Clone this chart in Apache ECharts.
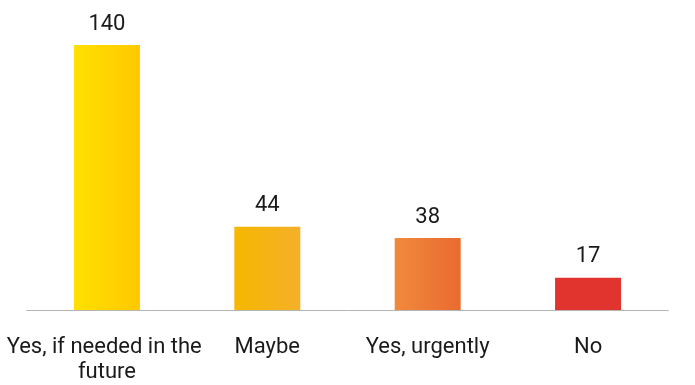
<!DOCTYPE html>
<html><head><meta charset="utf-8">
<script src="https://cdn.jsdelivr.net/npm/echarts@6/dist/echarts.min.js"></script>
<style>html,body{margin:0;padding:0;background:#fff}#c{width:695px;height:385px}</style>
</head><body><div id="c"></div>
<script>
var categories = ["Yes, if needed in the future", "Maybe", "Yes, urgently", "No"];
var values = [140, 44, 38, 17];
var colorsLeft = ["#FFE000", "#F6B800", "#F08A3C", "#E2342E"];
var colorsRight = ["#FFC800", "#F5B02A", "#EA6A30", "#E2342E"];

var chart = echarts.init(document.getElementById('c'));
chart.setOption({
  animation: false,
  grid: {left: 25, right: 0, top: 45, bottom: 71.5},
  xAxis: {
    type: 'category', data: categories,
    axisLine: {lineStyle: {color: '#b4b4b4', width: 1}},
    axisTick: {show: false},
    axisLabel: {interval: 0, margin: 25, color: '#1a1a1a', fontFamily: 'Roboto', fontSize: 22,
      width: 215, overflow: 'break', lineHeight: 25}
  },
  yAxis: {type: 'value', min: 0, max: 140, show: false, splitLine: {show: false}},
  series: [{
    type: 'bar', barWidth: 66,
    data: values.map(function (v, i) {
      return {value: v, itemStyle: {color: new echarts.graphic.LinearGradient(0, 0, 1, 0, [
        {offset: 0, color: colorsLeft[i]}, {offset: 1, color: colorsRight[i]}])}};
    }),
    label: {show: true, position: 'top', distance: 10, color: '#1a1a1a', fontFamily: 'Roboto', fontSize: 22}
  }]
});
</script></body></html>
